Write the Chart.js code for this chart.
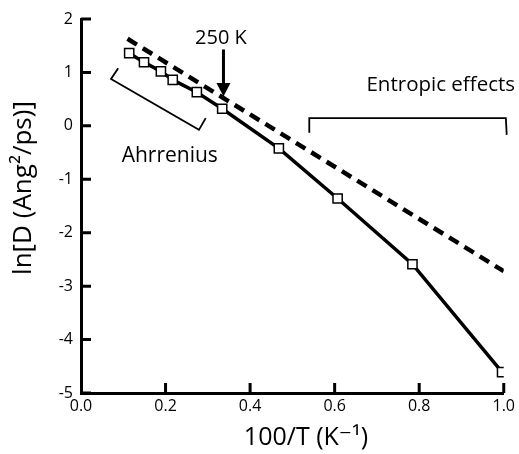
<!DOCTYPE html>
<html>
<head>
<meta charset="utf-8">
<script src="https://cdn.jsdelivr.net/npm/chart.js@4.4.1/dist/chart.umd.min.js"></script>
<style>
  html, body { margin: 0; padding: 0; background: #fff; }
  #chart { display: block; }
</style>
</head>
<body>
<canvas id="chart" width="519" height="454"></canvas>
<script>
// data: 100/T (K^-1) and ln D
const invTemp = [0.114, 0.149, 0.189, 0.217, 0.274, 0.334, 0.468, 0.607, 0.784, 0.996];
const lnD = [1.36, 1.19, 1.02, 0.86, 0.63, 0.32, -0.42, -1.36, -2.59, -4.61];

// Arrhenius extrapolation (dashed)
const fitX = [0.11, 1.0];
const fitY = [1.63, -2.72];

const xTicks = [0.0, 0.2, 0.4, 0.6, 0.8, 1.0];
const yTicks = [-5, -4, -3, -2, -1, 0, 1, 2];

const FONT = "'Open Sans', 'DejaVu Sans', sans-serif";

const toPoints = (xs, ys) => xs.map((x, i) => ({ x: x, y: ys[i] }));

// inward ticks, axis titles and the annotations
const decorations = {
    id: 'decorations',
    afterDraw(chart) {
        const ctx = chart.ctx;
        const xs = chart.scales.x;
        const ys = chart.scales.y;
        const area = chart.chartArea;
        const px = v => xs.getPixelForValue(v);
        const py = v => ys.getPixelForValue(v);

        ctx.save();
        ctx.strokeStyle = '#000';
        ctx.fillStyle = '#000';

        // ticks pointing into the plot
        ctx.lineWidth = 3;
        ctx.beginPath();
        yTicks.forEach(t => {
            ctx.moveTo(area.left, py(t));
            ctx.lineTo(area.left + 10, py(t));
        });
        xTicks.forEach(t => {
            if (t === 0) return;
            ctx.moveTo(px(t), area.bottom);
            ctx.lineTo(px(t), area.bottom - 10);
        });
        ctx.stroke();

        // axis titles
        ctx.textAlign = 'center';
        ctx.textBaseline = 'middle';
        ctx.font = '25px ' + FONT;
        ctx.fillText('100/T (K\u207B\u00B9)', 306, 438);
        ctx.save();
        ctx.translate(24, 188);
        ctx.rotate(-Math.PI / 2);
        ctx.font = '26px ' + FONT;
        ctx.fillText('ln[D (Ang\u00B2/ps)]', 0, 0);
        ctx.restore();

        // 250 K arrow
        ctx.font = '20px ' + FONT;
        ctx.fillText('250 K', px(0.331), py(1.64));
        const ax = px(0.337);
        ctx.lineWidth = 3;
        ctx.beginPath();
        ctx.moveTo(ax, py(1.43));
        ctx.lineTo(ax, py(0.8));
        ctx.stroke();
        ctx.beginPath();
        ctx.moveTo(ax - 7, py(0.8));
        ctx.lineTo(ax + 7, py(0.8));
        ctx.lineTo(ax, py(0.55));
        ctx.closePath();
        ctx.fill();

        // brackets
        ctx.lineWidth = 1.8;
        ctx.beginPath();
        ctx.moveTo(px(0.088), py(1.08));
        ctx.lineTo(px(0.071), py(0.876));
        ctx.lineTo(px(0.279), py(-0.075));
        ctx.lineTo(px(0.295), py(0.144));
        ctx.stroke();

        ctx.beginPath();
        ctx.moveTo(px(0.540), py(-0.131));
        ctx.lineTo(px(0.540), py(0.144));
        ctx.lineTo(px(1.005), py(0.144));
        ctx.lineTo(px(1.007), py(-0.169));
        ctx.stroke();

        ctx.font = '21px ' + FONT;
        ctx.fillText('Ahrrenius', px(0.21), py(-0.57));
        ctx.font = '20.5px ' + FONT;
        ctx.fillText('Entropic effects', px(0.851), py(0.76));

        ctx.restore();
    }
};

new Chart(document.getElementById('chart'), {
    type: 'scatter',
    data: {
        datasets: [
            {
                label: 'fit',
                data: toPoints(fitX, fitY),
                showLine: true,
                borderColor: '#000',
                borderWidth: 4.5,
                borderDash: [11, 7],
                pointRadius: 0
            },
            {
                label: 'ln D',
                data: toPoints(invTemp, lnD),
                showLine: true,
                borderColor: '#000',
                borderWidth: 3.5,
                pointStyle: 'rect',
                pointRadius: 6.5,
                pointBorderWidth: 1.5,
                pointBackgroundColor: '#fff',
                pointBorderColor: '#000'
            }
        ]
    },
    options: {
        responsive: false,
        animation: false,
        layout: { padding: { left: 0, right: 14, top: 19, bottom: 0 } },
        plugins: {
            legend: { display: false },
            tooltip: { enabled: false }
        },
        scales: {
            x: {
                type: 'linear',
                min: 0,
                max: 1,
                afterFit: s => { s.height = 61; },
                grid: { display: false, drawTicks: false },
                border: { display: true, color: '#000', width: 3 },
                ticks: {
                    stepSize: 0.2,
                    padding: 4,
                    color: '#000',
                    font: { family: FONT, size: 16 },
                    callback: v => v.toFixed(1)
                }
            },
            y: {
                type: 'linear',
                min: -5,
                max: 2,
                afterFit: s => { s.width = 81; },
                grid: { display: false, drawTicks: false },
                border: { display: true, color: '#000', width: 3 },
                ticks: {
                    stepSize: 1,
                    padding: 8,
                    color: '#000',
                    font: { family: FONT, size: 16 }
                }
            }
        }
    },
    plugins: [decorations]
});
</script>
</body>
</html>
